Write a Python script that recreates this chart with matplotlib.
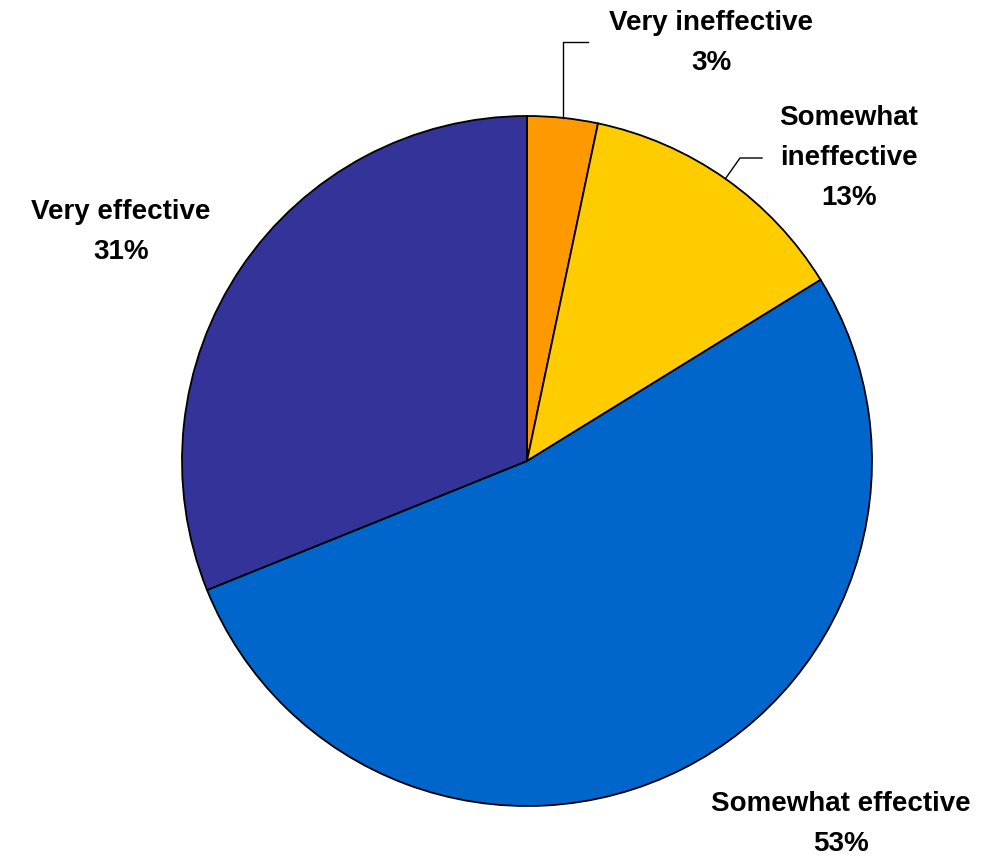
import numpy as np
import matplotlib.pyplot as plt

# Data
categories = ['Very ineffective', 'Somewhat\nineffective', 'Somewhat effective', 'Very effective']
values = [3.3, 12.9, 52.7, 31.1]
colors = ['#FF9900', '#FFCC00', '#0066CC', '#333399']

W, H = 995, 856
fig = plt.figure(figsize=(W / 100, H / 100), dpi=100)
ax = fig.add_axes([0, 0, 1, 1])

cx, cy, r = 527, H - 461, 345
wedges, _ = ax.pie(values, colors=colors, startangle=90, counterclock=False,
                   center=(cx, cy), radius=r, frame=True,
                   wedgeprops=dict(edgecolor='black', linewidth=1.3))
ax.set_xlim(0, W)
ax.set_ylim(0, H)
ax.set_aspect('equal')
ax.axis('off')

# label positions (pixel coords, top-left origin)
label_pos = [(711, 43), (849, 158), (841, 824), (121, 232)]
for cat, v, (x, y) in zip(categories, values, label_pos):
    ax.text(x, H - y, f'{cat}\n{round(v)}%', ha='center', va='center',
            fontsize=20, fontweight='bold', family='Liberation Sans',
            linespacing=1.7)

# leader lines for the two small slices
def edge_point(w, frac):
    a = np.deg2rad(w.theta1 + (w.theta2 - w.theta1) * frac)
    return cx + r * np.cos(a), cy + r * np.sin(a)

x0, y0 = edge_point(wedges[0], 0.5)
ax.plot([x0, x0, 588], [y0, H - 42, H - 42], color='black', lw=1)
x1, y1 = edge_point(wedges[1], 0.5)
ax.plot([x1, 740, 762], [y1, H - 158, H - 158], color='black', lw=1)

fig.savefig('out.png', dpi=100)
